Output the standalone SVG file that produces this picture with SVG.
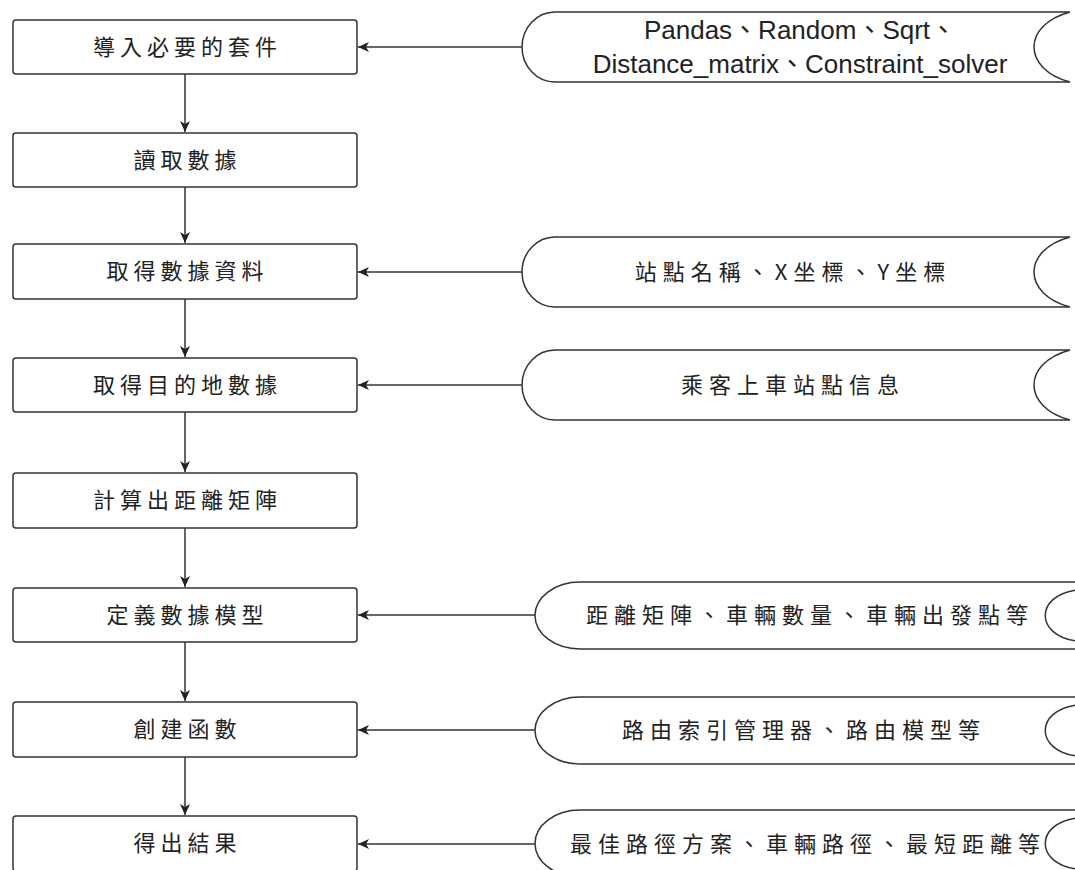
<svg xmlns="http://www.w3.org/2000/svg" width="1075" height="870" viewBox="0 0 1075 870">
<style>
.box{fill:#fff;stroke:#333;stroke-width:1.5}
.shape{fill:#fff;stroke:#333;stroke-width:1.5}
.arc{fill:none;stroke:#333;stroke-width:1.5}
.conn{fill:none;stroke:#333;stroke-width:1.5}
.bt{font-family:"Noto Sans CJK TC","Noto Sans CJK SC",sans-serif;font-size:22px;letter-spacing:5px;fill:#222;text-anchor:middle}
.st{font-family:"Noto Sans CJK TC","Noto Sans CJK SC",sans-serif;font-size:22px;letter-spacing:6px;fill:#222;text-anchor:middle}
.lt{font-family:"Liberation Sans","Noto Sans CJK TC",sans-serif;font-size:26px;fill:#222;text-anchor:middle}
</style>
<defs>
<marker id="ah" markerUnits="userSpaceOnUse" markerWidth="12" markerHeight="10" refX="11" refY="5" orient="auto">
<path d="M0,0 L11,5 L0,10 L3,5 Z" fill="#222"/>
</marker>
</defs>
<g id="connectors">
<path class="conn" d="M185,74 V132" marker-end="url(#ah)"/>
<path class="conn" d="M185,187 V243" marker-end="url(#ah)"/>
<path class="conn" d="M185,299 V357" marker-end="url(#ah)"/>
<path class="conn" d="M185,412 V472" marker-end="url(#ah)"/>
<path class="conn" d="M185,528 V587" marker-end="url(#ah)"/>
<path class="conn" d="M185,642 V701" marker-end="url(#ah)"/>
<path class="conn" d="M185,757 V815" marker-end="url(#ah)"/>
<path class="conn" d="M522,47 H358" marker-end="url(#ah)"/>
<path class="conn" d="M522,272 H358" marker-end="url(#ah)"/>
<path class="conn" d="M522,385 H358" marker-end="url(#ah)"/>
<path class="conn" d="M535,615 H358" marker-end="url(#ah)"/>
<path class="conn" d="M535,730 H358" marker-end="url(#ah)"/>
<path class="conn" d="M535,844 H358" marker-end="url(#ah)"/>
</g>
<g id="n1"><rect class="box" x="13" y="20" width="344" height="54" rx="3"/><text class="bt" x="187.5" y="55">導入必要的套件</text></g>
<g id="n2"><rect class="box" x="13" y="133" width="344" height="54" rx="3"/><text class="bt" x="187.5" y="168">讀取數據</text></g>
<g id="n3"><rect class="box" x="13" y="244" width="344" height="55" rx="3"/><text class="bt" x="187.5" y="279">取得數據資料</text></g>
<g id="n4"><rect class="box" x="13" y="358" width="344" height="54" rx="3"/><text class="bt" x="187.5" y="393">取得目的地數據</text></g>
<g id="n5"><rect class="box" x="13" y="473" width="344" height="55" rx="3"/><text class="bt" x="187.5" y="508">計算出距離矩陣</text></g>
<g id="n6"><rect class="box" x="13" y="588" width="344" height="54" rx="3"/><text class="bt" x="187.5" y="623">定義數據模型</text></g>
<g id="n7"><rect class="box" x="13" y="702" width="344" height="55" rx="3"/><text class="bt" x="187.5" y="737">創建函數</text></g>
<g id="n8"><rect class="box" x="13" y="816" width="344" height="55" rx="3"/><text class="bt" x="187.5" y="851">得出結果</text></g>
<g id="d1">
<path class="shape" d="M555,12 H1070 C1022,25 1022,69 1070,82 H555 A33,35 0 0 1 555,12 Z"/>
<text class="lt" x="800" y="39">Pandas、Random、Sqrt、</text>
<text class="lt" x="800" y="73">Distance_matrix、Constraint_solver</text>
</g>
<g id="d2">
<path class="shape" d="M555,237 H1070 C1022,250 1022,294 1070,307 H555 A33,35 0 0 1 555,237 Z"/>
<text class="st" x="793" y="280">站點名稱、X坐標、Y坐標</text>
</g>
<g id="d3">
<path class="shape" d="M555,350 H1070 C1022,363 1022,407 1070,420 H555 A33,35 0 0 1 555,350 Z"/>
<text class="st" x="793" y="393">乘客上車站點信息</text>
</g>
<g id="d4">
<path class="shape" d="M580,582 H1076 V649 H580 A45,33.5 0 0 1 580,582 Z"/>
<path class="arc" d="M1076,590 C1035,596 1035,635 1076,641"/>
<text class="st" x="810" y="623">距離矩陣、車輛數量、車輛出發點等</text>
</g>
<g id="d5">
<path class="shape" d="M580,697 H1076 V764 H580 A45,33.5 0 0 1 580,697 Z"/>
<path class="arc" d="M1076,705 C1035,711 1035,750 1076,756"/>
<text class="st" x="804" y="738">路由索引管理器、路由模型等</text>
</g>
<g id="d6">
<path class="shape" d="M580,810 H1076 V877 H580 A45,33.5 0 0 1 580,810 Z"/>
<path class="arc" d="M1076,818 C1035,824 1035,863 1076,869"/>
<text class="st" x="808" y="852">最佳路徑方案、車輛路徑、最短距離等</text>
</g>
</svg>
